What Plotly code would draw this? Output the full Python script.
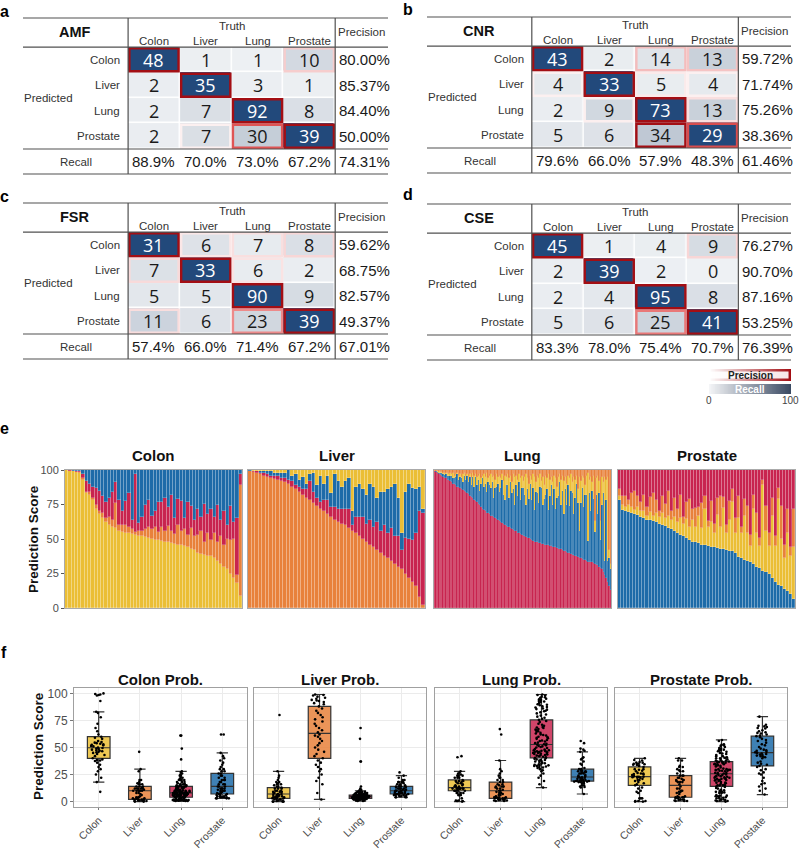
import numpy as np
import plotly.graph_objects as go

W, H = 800, 852
FONT = "Liberation Sans, Arial, sans-serif"
CLASSES = ["Colon", "Liver", "Lung", "Prostate"]
CLASS_COLORS = {"Colon": "#EBBE35", "Liver": "#E8813B", "Lung": "#C8244F", "Prostate": "#1D6BA8"}

# ---------------- confusion tables ----------------
amf_counts = [[48, 1, 1, 10], [2, 35, 3, 1], [2, 7, 92, 8], [2, 7, 30, 39]]
amf_precision = ["80.00%", "85.37%", "84.40%", "50.00%"]
amf_recall = ["88.9%", "70.0%", "73.0%", "67.2%"]
amf_overall = "74.31%"

cnr_counts = [[43, 2, 14, 13], [4, 33, 5, 4], [2, 9, 73, 13], [5, 6, 34, 29]]
cnr_precision = ["59.72%", "71.74%", "75.26%", "38.36%"]
cnr_recall = ["79.6%", "66.0%", "57.9%", "48.3%"]
cnr_overall = "61.46%"

fsr_counts = [[31, 6, 7, 8], [7, 33, 6, 2], [5, 5, 90, 9], [11, 6, 23, 39]]
fsr_precision = ["59.62%", "68.75%", "82.57%", "49.37%"]
fsr_recall = ["57.4%", "66.0%", "71.4%", "67.2%"]
fsr_overall = "67.01%"

cse_counts = [[45, 1, 4, 9], [2, 39, 2, 0], [2, 4, 95, 8], [5, 6, 25, 41]]
cse_precision = ["76.27%", "90.70%", "87.16%", "53.25%"]
cse_recall = ["83.3%", "78.0%", "75.4%", "70.7%"]
cse_overall = "76.39%"

# ---------------- per-sample prediction scores (%) ----------------
colon_truth_colon = [100, 99.5, 99, 98.5, 98, 93, 83, 82, 78, 72, 68, 65, 62, 60, 59, 58, 56, 55, 54.5, 54,
                     53.5, 53, 52.5, 52, 51.5, 51, 50, 49.5, 49, 48.5, 48, 47.5, 47, 46.5, 46, 45.5, 45, 44, 43, 42,
                     40, 39, 38.5, 38, 37.5, 36, 34, 32, 30, 28, 25, 22, 18, 9]
colon_truth_liver = [0, 0, 0, 0, 0.5, 1, 1, 2, 2, 3, 2, 4, 3, 6, 5, 18, 4, 5, 6, 5,
                     4, 2, 3, 4, 6, 8, 7, 9, 6, 10, 8, 12, 9, 7, 14, 10, 12, 9, 15, 10,
                     13, 17, 9, 16, 12, 18, 14, 20, 16, 22, 24, 28, 6, 80]
colon_truth_lung = [0, 0.5, 0.5, 1, 1, 3, 8, 6, 8, 12, 15, 12, 12, 14, 20, 15, 18, 10, 17, 24,
                    6, 42, 6, 10, 17, 19, 10, 12, 22, 18, 24, 14, 26, 12, 19, 22, 8, 24, 16, 12,
                    19, 10, 28, 14, 22, 12, 27, 12, 24, 10, 25, 12, 41, 8]
colon_truth_prostate = [0, 0, 0.5, 0.5, 0.5, 3, 8, 10, 12, 13, 15, 19, 23, 20, 16, 9, 22, 30, 22.5, 17,
                        36.5, 3, 38.5, 34, 25.5, 22, 33, 29.5, 23, 23.5, 20, 26.5, 18, 34.5, 21, 22.5, 35, 23, 26, 36,
                        28, 34, 24.5, 32, 28.5, 34, 25, 36, 30, 40, 26, 38, 35, 3]

liver_truth_liver = [99, 98.5, 98, 97, 96, 95, 94, 93.5, 93, 92, 91, 90, 88, 86, 84, 82, 80, 78, 76, 74,
                     72, 70, 68, 66, 64, 62, 61, 60, 58, 56, 54, 52, 50, 48, 46, 44, 42, 40, 38, 36,
                     34, 32, 30, 28, 25, 22, 19, 16, 8, 2]
liver_truth_lung = [0.5, 0.5, 1, 1, 1.5, 2, 2, 2.5, 3, 2, 3, 3, 4, 3, 4, 4, 6, 14, 8, 6,
                    5, 8, 10, 7, 9, 10, 11, 12, 14, 4, 12, 14, 16, 13, 18, 15, 20, 16, 22, 18,
                    24, 20, 22, 14, 26, 28, 30, 38, 62, 67]
liver_truth_prostate = [0.5, 0.5, 0.5, 1, 1.5, 2, 3, 2, 2, 4, 4, 7, 4, 8, 5, 9, 4, 5, 14, 9,
                        19, 12, 18, 10, 24, 20, 16, 20, 22, 10, 22, 24, 20, 21, 26, 29, 18, 28, 24, 32,
                        30, 38, 28, 12, 33, 40, 38, 32, 18, 3]
liver_truth_colon = [0, 0.5, 0.5, 1, 1, 1, 1, 2, 2, 2, 2, 0, 4, 3, 7, 5, 10, 3, 2, 11,
                     4, 10, 4, 17, 3, 8, 12, 8, 6, 30, 12, 10, 14, 18, 10, 12, 20, 16, 16, 14,
                     12, 10, 20, 46, 16, 10, 13, 14, 12, 28]

lung_truth_lung = [99, 98.5, 98, 97, 96.5, 96, 95, 94.5, 94, 93, 92.5, 92,
                   91, 90, 89.5, 89, 88, 87.5, 87, 86, 85.5, 85, 84, 83.5,
                   82.5, 81.5, 80.5, 79.5, 78.5, 77.5, 76.5, 75.5, 74.5, 73.5, 72, 71,
                   70, 69, 68.5, 68, 67, 66.5, 66, 65, 64.5, 63.5, 63, 62,
                   61.5, 61, 60, 59.5, 59, 58.5, 58, 57, 56.5, 56, 55.5, 54.5,
                   54, 53.5, 53, 52.5, 52, 51.5, 51, 50.5, 50, 49.5, 48.5, 48,
                   47.5, 47.5, 47, 47, 46.5, 46.5, 46, 46, 45.5, 45.5, 45, 45,
                   44.5, 44, 44, 43.5, 43, 43, 42.5, 42, 41.5, 41, 40.5, 40,
                   39.5, 39, 38.5, 38.5, 38, 37.5, 37, 36.5, 36, 35.5, 35, 34.5,
                   34, 33.5, 33.5, 33, 33, 32.5, 32, 31.5, 31, 30, 29, 28,
                   26, 24, 22, 19, 16, 13]
lung_truth_prostate = [0, 0.5, 0.5, 1, 1, 1.5, 2, 2, 3, 3, 3.5, 4,
                       5, 4, 5, 6, 9, 5.5, 8, 8, 5.5, 11, 9, 12,
                       8.5, 13.5, 8.5, 15.5, 9.5, 17.5, 12.5, 17.5, 10.5, 16.5, 22, 17,
                       20, 15, 22.5, 21, 20, 24.5, 14, 22, 23.5, 26.5, 21, 25,
                       31.5, 21, 18, 29.5, 30, 21.5, 33, 26, 29.5, 19, 33.5, 26.5,
                       37, 24.5, 34, 34.5, 30, 23.5, 35, 28.5, 40, 28.5, 38.5, 23,
                       36.5, 35.5, 29, 41, 40.5, 28.5, 33, 36, 40.5, 25.5, 36, 44,
                       30.5, 42, 28, 36.5, 38, 48, 32.5, 43, 26.5, 45, 34.5, 49,
                       34.5, 46, 44.5, 29.5, 42, 52.5, 39, 19.5, 40, 51.5, 38, 47.5,
                       48, 15, 49.5, 37, 52, 46.5, 23, 50.5, 37, 53, 20, 47,
                       57, 10, 56, 15, 20, 15]
lung_truth_colon = [0.5, 0.5, 0.5, 1, 1, 1, 1, 1.5, 1, 1.5, 1, 2,
                    1, 4, 1.5, 2, 1, 3, 2, 1, 6, 2, 3, 1.5,
                    4, 2, 5, 3, 8, 2, 6, 3, 12, 4, 2, 9,
                    5, 14, 3, 7, 10, 4, 16, 6, 9, 5, 12, 7,
                    4, 10, 18, 6, 8, 14, 5, 8, 11, 20, 7, 12,
                    6, 16, 9, 5, 13, 22, 8, 11, 6, 15, 10, 24,
                    7, 13, 18, 9, 5, 20, 10, 14, 8, 26, 12, 6,
                    16, 10, 22, 8, 14, 6, 18, 11, 24, 9, 15, 7,
                    20, 12, 8, 27, 13, 6, 10, 39, 16, 9, 21, 7,
                    14, 49, 10, 25, 6, 17, 8, 12, 28, 9, 14, 20,
                    8, 61, 15, 61, 6, 4]
lung_truth_liver = [0.5, 0.5, 1, 1, 1.5, 1.5, 2, 2, 2, 2.5, 3, 2,
                    3, 2, 4, 3, 2, 4, 3, 5, 3, 2, 4, 3,
                    5, 3, 6, 2, 4, 3, 5, 4, 3, 6, 4, 3,
                    5, 2, 6, 4, 3, 5, 4, 7, 3, 5, 4, 6,
                    3, 8, 4, 5, 3, 6, 4, 9, 3, 5, 4, 7,
                    3, 6, 4, 8, 5, 3, 6, 10, 4, 7, 3, 5,
                    9, 4, 6, 3, 8, 5, 11, 4, 6, 3, 7, 5,
                    9, 4, 6, 12, 5, 3, 7, 4, 8, 5, 10, 4,
                    6, 3, 9, 5, 7, 4, 14, 5, 8, 4, 6, 11,
                    4, 2.5, 7, 5, 9, 4, 37, 6, 4, 8, 37, 5,
                    9, 5, 7, 5, 58, 68]

prostate_truth_prostate = [78.5, 71, 70, 69.5, 69, 68, 67.5, 66, 65, 64, 63.5, 63, 62, 61, 60.5, 59.5, 58, 57, 56, 54.5,
                           53, 52, 50.5, 49, 48, 47.5, 47, 46, 45.5, 45, 44.5, 44, 43.5, 43, 42.5, 42, 41.5, 41, 40, 37,
                           36, 35, 34, 33, 32, 30, 29, 27, 26, 25, 22, 19, 17, 16, 14, 12, 10, 6.5]
prostate_truth_colon = [3, 4, 3, 5, 4, 3, 6, 4, 5, 3, 6, 4, 7, 5, 8, 6, 9, 7, 10, 8,
                        12, 9, 14, 10, 16, 11, 20, 12, 26, 14, 18, 10, 24, 16, 30, 12, 22, 36, 14, 28,
                        18, 32, 20, 12, 40, 24, 16, 62, 30, 20, 45, 26, 62, 34, 22, 42, 28, 38]
prostate_truth_liver = [5, 6, 8, 4, 10, 14, 8, 7, 12, 6, 11, 16, 9, 4, 13, 10, 18, 6, 14, 9,
                        17, 5, 12, 20, 8, 14, 6, 18, 10, 4, 15, 7, 12, 22, 8, 6, 14, 9, 11, 16,
                        5, 12, 20, 8, 10, 15, 6, 4, 18, 9, 13, 7, 8, 24, 10, 18, 6, 27]
prostate_truth_lung = [13.5, 19, 19, 21.5, 17, 15, 18.5, 23, 18, 27, 19.5, 17, 22, 30, 18.5, 24.5, 15, 30, 20, 28.5,
                       18, 34, 23.5, 21, 28, 27.5, 27, 24, 18.5, 37, 22.5, 39, 20.5, 19, 19.5, 40, 22.5, 14, 35, 19,
                       41, 21, 26, 47, 18, 31, 49, 7, 26, 46, 20, 48, 13, 26, 54, 28, 56, 28.5]

samples = {
    "Colon": {"Colon": colon_truth_colon, "Liver": colon_truth_liver, "Lung": colon_truth_lung, "Prostate": colon_truth_prostate},
    "Liver": {"Colon": liver_truth_colon, "Liver": liver_truth_liver, "Lung": liver_truth_lung, "Prostate": liver_truth_prostate},
    "Lung": {"Colon": lung_truth_colon, "Liver": lung_truth_liver, "Lung": lung_truth_lung, "Prostate": lung_truth_prostate},
    "Prostate": {"Colon": prostate_truth_colon, "Liver": prostate_truth_liver, "Lung": prostate_truth_lung, "Prostate": prostate_truth_prostate},
}

# ---------------- helpers ----------------
CELL_SCALE = [[0, "#EEF1F4"], [0.1, "#E2E6EB"], [0.2, "#CDD4DD"], [0.3, "#B9C3D0"], [0.4, "#9AA9BC"],
              [0.42, "#22497B"], [1, "#22497B"]]
BORDER_SCALE = [[0, "#FFFFFF"], [0.1, "#FCEEEE"], [0.15, "#F8D8D8"], [0.2, "#F3B8B8"], [0.3, "#EC8585"],
                [0.38, "#E35A5A"], [0.45, "#A30E14"], [1, "#A30E14"]]


def hex_rgb(h):
    h = h.lstrip("#")
    return tuple(int(h[i:i + 2], 16) for i in (0, 2, 4))


def scale_color(scale, v):
    v = min(max(float(v), 0.0), 1.0)
    for (p0, c0), (p1, c1) in zip(scale[:-1], scale[1:]):
        if v <= p1:
            f = 0 if p1 == p0 else (v - p0) / (p1 - p0)
            a, b = hex_rgb(c0), hex_rgb(c1)
            return "rgb(%d,%d,%d)" % tuple(round(a[k] + (b[k] - a[k]) * f) for k in range(3))
    return scale[-1][1]


def rgba(h, a):
    r, g, b = hex_rgb(h)
    return f"rgba({r},{g},{b},{a})"


def xdom(l, r):
    return [l / W, r / W]


def ydom(t, b):
    return [1 - b / H, 1 - t / H]


def keys(n):
    s = "" if n == 1 else str(n)
    return "xaxis" + s, "yaxis" + s, "x" + s, "y" + s


fig = go.Figure()
layout = dict(width=W, height=H, margin=dict(l=0, r=0, t=0, b=0, autoexpand=False), paper_bgcolor="white",
              plot_bgcolor="white", showlegend=False, template="none",
              font=dict(family=FONT, color="#222222"), barmode="stack", bargap=0,
              boxmode="overlay")
annotations = []
shapes = []


def ann(text, x, y, xref="paper", yref="paper", size=12, color="#222222", bold=False,
        xanchor="center", yanchor="middle", angle=0, family=FONT):
    annotations.append(dict(text=("<b>%s</b>" % text) if bold else text, x=x, y=y, xref=xref, yref=yref,
                            showarrow=False, xanchor=xanchor, yanchor=yanchor, textangle=angle,
                            font=dict(size=size, color=color, family=family)))


# ---------------- tables a-d ----------------
tables = [
    (1, "AMF", amf_counts, amf_precision, amf_recall, amf_overall, (23, 388, 18, 174)),
    (2, "CNR", cnr_counts, cnr_precision, cnr_recall, cnr_overall, (427, 791, 17, 173)),
    (3, "FSR", fsr_counts, fsr_precision, fsr_recall, fsr_overall, (23, 388, 203, 359)),
    (4, "CSE", cse_counts, cse_precision, cse_recall, cse_overall, (427, 791, 204, 360)),
]
for n, name, counts, prec, rec, overall, (l, r, t, b) in tables:
    xk, yk, xr, yr = keys(n)
    layout[xk] = dict(domain=xdom(l, r), range=[-2.53, 4.52], visible=False, anchor=yr)
    layout[yk] = dict(domain=ydom(t, b), range=[4.48, -1.64], visible=False, anchor=xr)
    c = np.array(counts, dtype=float)
    colfrac = c / c.sum(axis=0, keepdims=True)
    rowfrac = c / c.sum(axis=1, keepdims=True)
    fig.add_trace(go.Heatmap(z=colfrac, x=[0, 1, 2, 3], y=[0, 1, 2, 3], zmin=0, zmax=1,
                             colorscale=CELL_SCALE, showscale=False, xgap=1.5, ygap=1.5,
                             xaxis=xr, yaxis=yr, hoverinfo="skip"))
    for i in range(4):
        for j in range(4):
            dark = colfrac[i, j] >= 0.42
            ann(str(counts[i][j]), j, i, xr, yr, size=18, color="white" if dark else "#1A1A1A",
                family="Open Sans, Liberation Sans, sans-serif")
            if rowfrac[i, j] >= 0.085:
                shapes.append(dict(type="rect", xref=xr, yref=yr, x0=j - 0.475, x1=j + 0.475,
                                   y0=i - 0.45, y1=i + 0.45,
                                   line=dict(color=scale_color(BORDER_SCALE, rowfrac[i, j]), width=2.4),
                                   fillcolor="rgba(0,0,0,0)", layer="above"))
        ann(CLASSES[i], -0.62, i, xr, yr, size=11.5, color="#333333", xanchor="right")
        ann(prec[i], 3.54, i, xr, yr, size=15, color="#1A1A1A", xanchor="left")
    for j in range(4):
        ann(CLASSES[j], j, -0.74, xr, yr, size=11.5, color="#333333")
        ann(rec[j], j, 4.0, xr, yr, size=15, color="#1A1A1A")
    ann(overall, 3.54, 4.0, xr, yr, size=15, color="#1A1A1A", xanchor="left")
    ann(name, -1.52, -1.08, xr, yr, size=14.5, color="#111111", bold=True)
    ann("Truth", 1.5, -1.32, xr, yr, size=11.5, color="#333333")
    ann("Precision", 4.01, -1.08, xr, yr, size=11.5, color="#333333")
    ann("Predicted", -2.03, 1.5, xr, yr, size=11.5, color="#333333")
    ann("Recall", -1.51, 4.0, xr, yr, size=11.5, color="#333333")
    lc = dict(color="#505050", width=1.2)
    for yy in (0, 1):
        shapes.append(dict(type="line", xref=xr + " domain", yref=yr + " domain", x0=0, x1=1, y0=yy, y1=yy, line=lc))
    for yy in (-0.5, 3.5):
        shapes.append(dict(type="line", xref=xr + " domain", yref=yr, x0=0, x1=1, y0=yy, y1=yy, line=lc))
    for xx in (-0.5, 3.5):
        shapes.append(dict(type="line", xref=xr, yref=yr + " domain", x0=xx, x1=xx, y0=0, y1=1, line=lc))

# ---------------- legend for tables ----------------
legend_vals = list(range(101))
xk, yk, xr, yr = keys(5)
layout[xk] = dict(domain=xdom(709, 791), range=[-0.5, 100.5], visible=False, anchor=yr)
layout[yk] = dict(domain=ydom(384, 394), range=[-0.5, 0.5], visible=False, anchor=xr)
fig.add_trace(go.Heatmap(z=[legend_vals], x=legend_vals, y=[0], colorscale=[[0, "#F4F5F7"], [1, "#3A4A63"]],
                         showscale=False, xaxis=xr, yaxis=yr, hoverinfo="skip"))
ann("Recall", 50, 0, xr, yr, size=10, color="white", bold=True)
ann("0", 0, 1 - 400 / H, xr, "paper", size=10, color="#444444")
ann("100", 100, 1 - 400 / H, xr, "paper", size=10, color="#444444")
xk, yk, xr, yr = keys(6)
layout[xk] = dict(domain=xdom(709, 791), range=[-0.5, 100.5], visible=False, anchor=yr)
layout[yk] = dict(domain=ydom(369, 381), range=[-0.5, 0.5], visible=False, anchor=xr)
fig.add_trace(go.Heatmap(z=[legend_vals], x=legend_vals, y=[0], colorscale=[[0, "#FFFFFF"], [1, "#A30E14"]],
                         showscale=False, xaxis=xr, yaxis=yr, hoverinfo="skip"))
shapes.append(dict(type="rect", xref=xr + " domain", yref=yr + " domain", x0=0.012, x1=0.97, y0=0.2, y1=0.8,
                   fillcolor="rgba(255,255,255,0.9)", line=dict(width=0), layer="above"))
ann("Precision", 50, 0, xr, yr, size=10, color="#222222", bold=True)

# ---------------- panel e: stacked prediction scores ----------------
e_boxes = [(65, 242), (248, 425), (434, 611), (618, 795)]
for k, truth in enumerate(CLASSES):
    n = 7 + k
    xk, yk, xr, yr = keys(n)
    l, r = e_boxes[k]
    N = len(samples[truth][truth])
    layout[xk] = dict(domain=xdom(l, r), range=[0.5, N + 0.5], showticklabels=False, ticks="",
                      showline=True, mirror=True, linecolor="#AAAAAA", linewidth=1, showgrid=False,
                      zeroline=False, anchor=yr)
    layout[yk] = dict(domain=ydom(470, 608), range=[0, 100], tickvals=[0, 25, 50, 75, 100],
                      ticks="outside" if k == 0 else "", ticklen=3, tickcolor="#555555",
                      showticklabels=(k == 0), tickfont=dict(size=11, color="#4D4D4D"),
                      showline=True, mirror=True, linecolor="#AAAAAA", linewidth=1, showgrid=False,
                      zeroline=False, anchor=xr)
    order = CLASSES[k:] + CLASSES[:k]
    xs = np.arange(1, N + 1)
    lw = 0.6 if N < 100 else 0.3
    for cls in order:
        fig.add_trace(go.Bar(x=xs, y=samples[truth][cls],
                             marker=dict(color=CLASS_COLORS[cls], line=dict(width=lw, color="rgba(255,255,255,0.35)")),
                             xaxis=xr, yaxis=yr, hoverinfo="skip", name=cls))
    ann(truth, (l + r) / 2 / W, 1 - 456 / H, size=15, color="#111111", bold=True)
ann("Prediction Score", 33 / W, 1 - 539 / H, size=13.5, color="#111111", bold=True, angle=-90)

# ---------------- panel f: box plots ----------------
f_boxes = [(74, 247), (254, 426), (435, 607), (615, 787)]
for k, prob in enumerate(CLASSES):
    n = 11 + k
    xk, yk, xr, yr = keys(n)
    l, r = f_boxes[k]
    layout[xk] = dict(domain=xdom(l, r), type="category", categoryorder="array", categoryarray=CLASSES,
                      range=[-0.6, 3.6], tickangle=-45, tickfont=dict(size=10.5, color="#4D4D4D"),
                      ticks="outside", ticklen=2, tickcolor="#777777", showline=True, mirror=True,
                      linecolor="#A0A0A0", linewidth=1, showgrid=True, gridcolor="#EBEBEB", gridwidth=0.8,
                      zeroline=False, anchor=yr)
    layout[yk] = dict(domain=ydom(688, 807), range=[-5, 105], tickvals=[0, 25, 50, 75, 100],
                      ticks="outside" if k == 0 else "", ticklen=3, tickcolor="#777777",
                      showticklabels=(k == 0), tickfont=dict(size=12, color="#4D4D4D"),
                      showline=True, mirror=True, linecolor="#A0A0A0", linewidth=1,
                      showgrid=True, gridcolor="#EBEBEB", gridwidth=0.8, zeroline=False, anchor=xr)
    for truth in CLASSES:
        vals = samples[truth][prob]
        fig.add_trace(go.Box(x=[truth] * len(vals), y=vals, name=truth, xaxis=xr, yaxis=yr,
                             boxpoints="all", jitter=0.75, pointpos=0, whiskerwidth=0.5, width=0.55,
                             fillcolor=rgba(CLASS_COLORS[truth], 0.85),
                             line=dict(color="#333333", width=1.2),
                             marker=dict(color="black", size=2.6, line=dict(width=0)),
                             hoverinfo="skip"))
    ann(prob + " Prob.", (l + r) / 2 / W, 1 - 679 / H, size=15, color="#111111", bold=True)
ann("Prediction Score", 38 / W, 1 - 746 / H, size=13.5, color="#111111", bold=True, angle=-90)

# ---------------- panel letters ----------------
for letter, px, py in [("a", 4, 11), ("b", 408, 10), ("c", 4, 197), ("d", 408, 194), ("e", 4, 428), ("f", 4, 652)]:
    ann(letter, px / W, 1 - py / H, size=16, color="#000000", bold=True)

layout["annotations"] = annotations
layout["shapes"] = shapes
fig.update_layout(**layout)
fig.write_html("out.html", config={"displayModeBar": False},
               post_script="document.body.style.margin='0px';document.body.style.overflow='hidden';")
